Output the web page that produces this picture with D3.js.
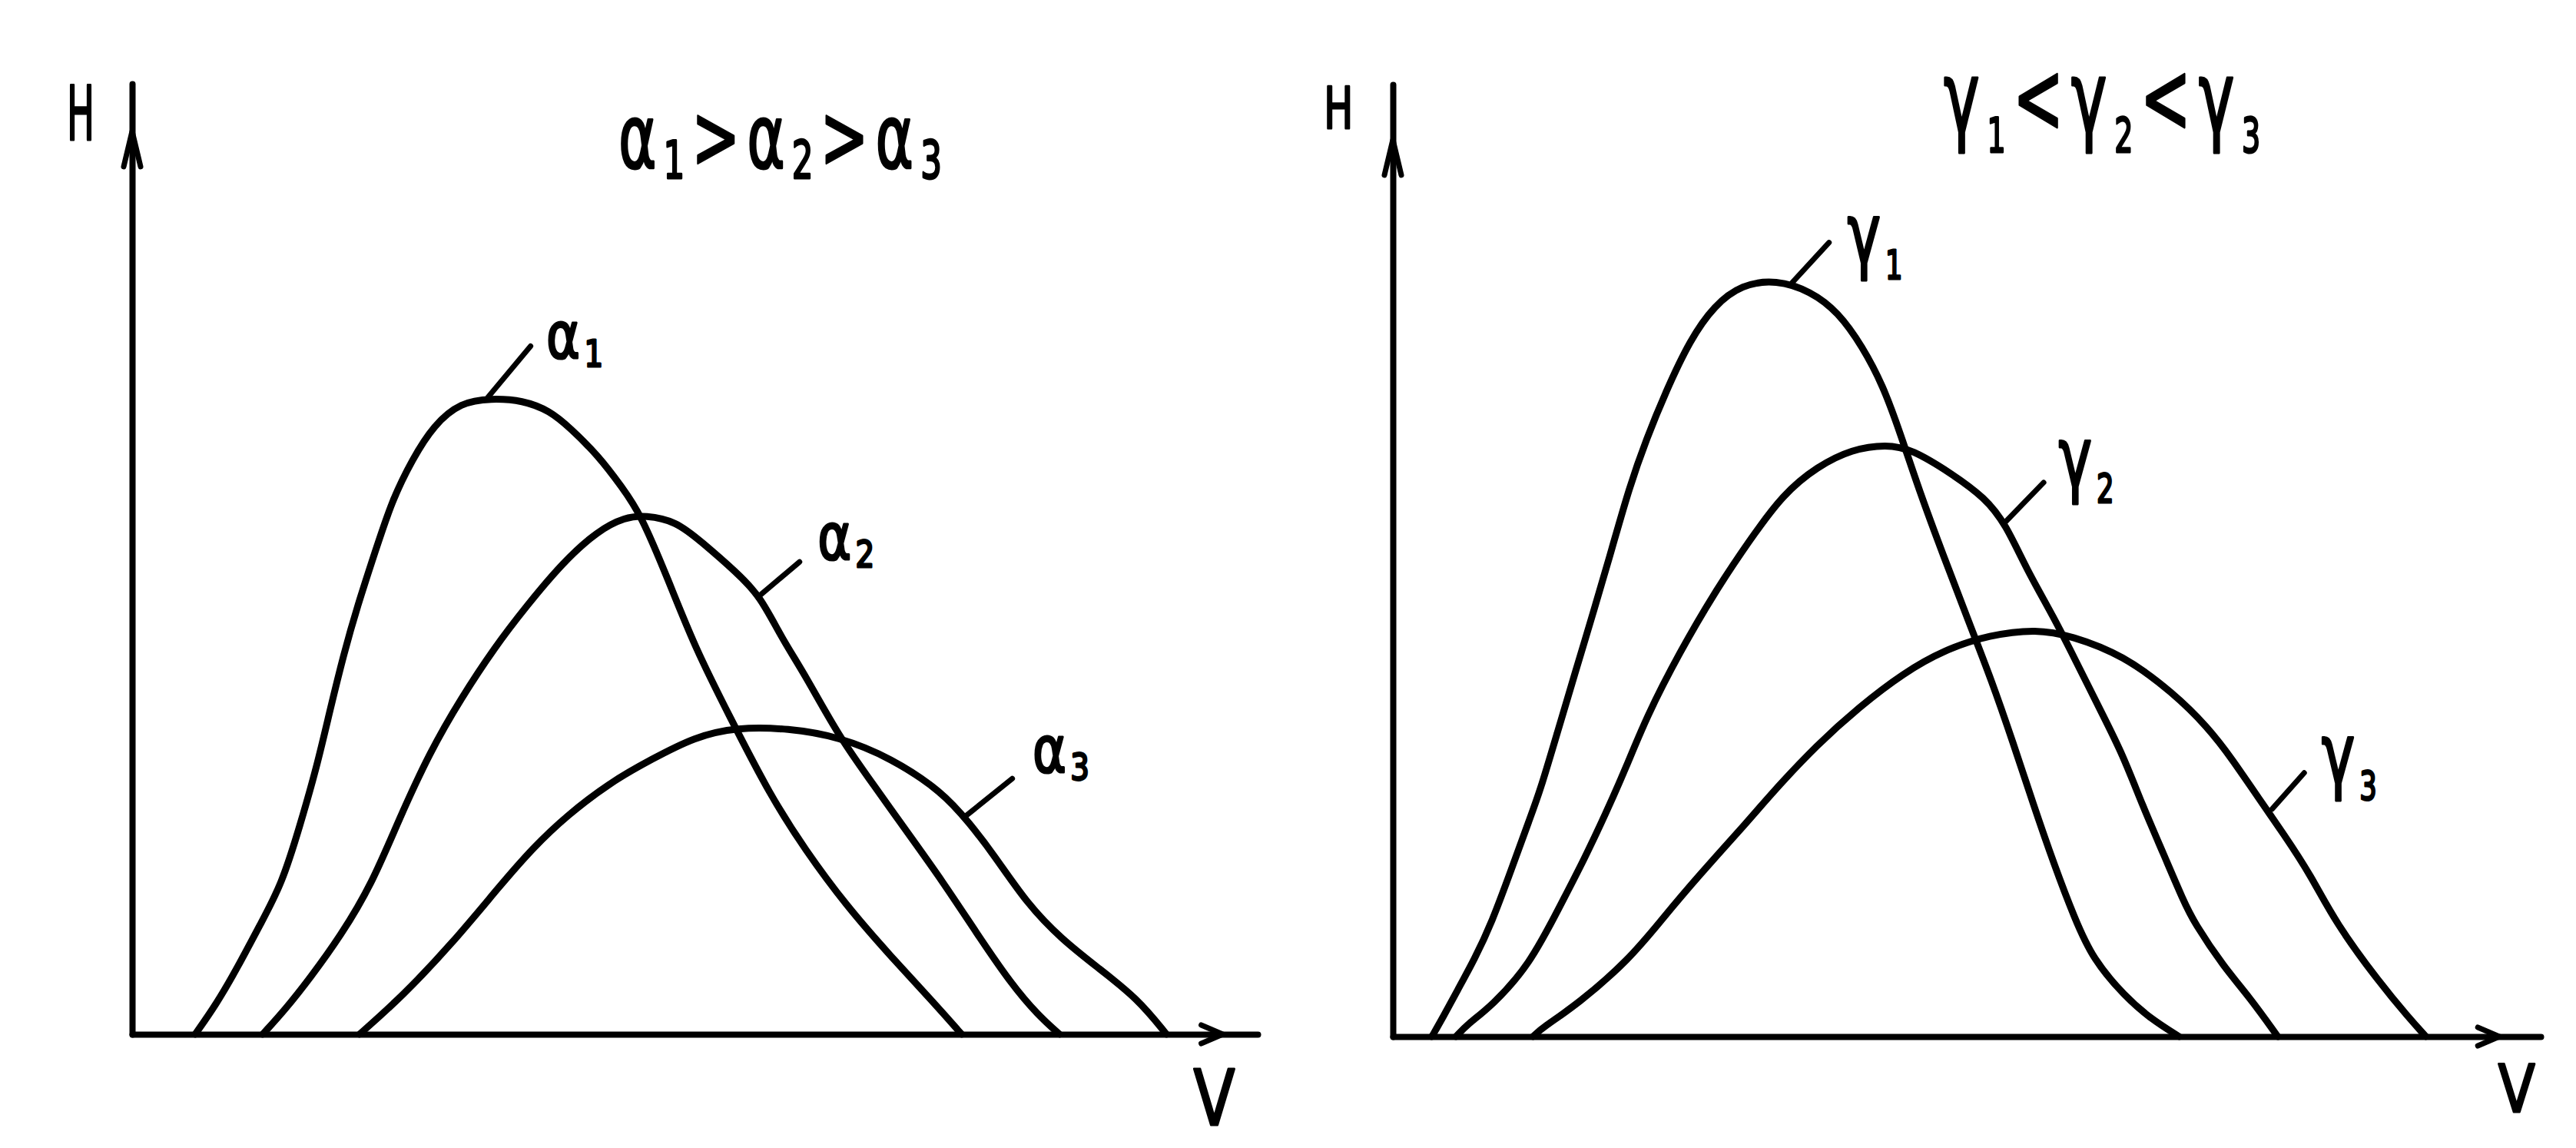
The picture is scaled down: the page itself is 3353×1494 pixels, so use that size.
<!DOCTYPE html>
<html><head><meta charset="utf-8">
<script src="https://cdn.jsdelivr.net/npm/d3@7"></script>
<style>html,body{margin:0;padding:0;background:#fff;} svg{display:block}</style>
</head><body>
<script>
// ---------- data (V, H), arbitrary units 0..100 ----------
const alpha1 = [[5.6,0],[7.5,3.2],[9.4,7.1],[11.4,11.6],[13.3,15.8],[14.9,21.9],[16.4,28.1],[17.6,34.2],[18.8,40.0],[20.0,45.0],[21.6,50.8],[23.1,56.2],[24.9,60.5],[26.8,64.1],[29.2,66.5],[31.9,66.9],[34.7,66.7],[37.1,65.6],[38.9,63.8],[41.4,60.9],[43.5,57.6],[45.2,54.7],[47.6,47.9],[50.0,40.7],[53.1,33.4],[56.7,25.1],[59.8,19.4],[63.4,13.6],[67.4,8.2],[71.4,3.1],[73.7,0]];
const alpha2 = [[11.6,0],[13.6,2.6],[15.8,5.9],[18.5,10.3],[21.3,15.8],[23.7,22.6],[26.5,29.8],[29.2,35.3],[32.2,40.7],[35.0,45.0],[38.3,49.7],[41.4,53.0],[43.8,54.4],[45.6,54.6],[48.3,54.0],[50.6,51.8],[53.7,48.6],[55.8,46.1],[57.7,41.7],[59.8,37.8],[62.8,31.3],[65.9,26.2],[68.9,21.2],[72.0,16.1],[75.0,10.7],[78.1,5.3],[80.5,2.0],[82.4,0]];
const alpha3 = [[20.2,0],[24.0,4.0],[28.4,9.5],[32.8,15.8],[35.6,19.6],[38.6,23.0],[42.6,26.6],[46.1,28.9],[50.0,31.3],[53.7,32.3],[58.3,32.2],[62.8,31.3],[67.4,29.1],[72.0,25.5],[74.4,22.2],[76.5,19.0],[79.6,13.6],[82.6,10.0],[85.7,7.1],[89.3,3.8],[91.9,0]];
const gamma1 = [[3.4,0],[4.4,2.1],[5.6,4.8],[7.1,8.1],[8.6,11.9],[10.4,17.8],[11.9,22.8],[12.8,25.7],[14.3,31.8],[15.8,37.9],[17.6,45.1],[19.1,51.3],[20.6,57.7],[22.1,62.8],[23.8,67.8],[25.9,73.2],[28.0,76.8],[30.4,79.0],[33.4,79.5],[36.4,78.3],[38.8,76.1],[40.9,72.5],[42.7,68.4],[44.2,63.4],[45.9,57.2],[48.0,50.4],[50.1,43.8],[52.2,37.3],[54.0,31.0],[55.8,24.4],[57.6,18.1],[59.4,12.4],[61.0,8.1],[63.8,4.2],[66.0,1.9],[68.5,0]];
const gamma2 = [[5.5,0],[6.5,1.3],[8.6,3.2],[11.9,7.5],[14.6,13.8],[16.7,18.7],[18.5,23.3],[20.3,28.2],[22.1,33.6],[25.0,40.4],[28.0,46.6],[31.0,52.0],[34.0,57.0],[37.0,59.9],[40.0,61.7],[43.0,62.2],[45.2,61.7],[48.6,59.2],[51.6,56.6],[53.4,53.8],[55.2,49.1],[57.6,44.0],[59.4,39.7],[61.8,33.9],[63.6,29.6],[65.3,24.3],[67.1,19.3],[68.9,14.2],[69.8,12.0],[72.4,7.3],[74.6,4.2],[77.1,0]];
const gamma3 = [[12.2,0],[13.1,1.0],[16.1,3.4],[20.6,8.1],[23.5,12.4],[26.5,16.7],[31.0,22.7],[33.1,25.7],[37.0,30.7],[40.6,34.6],[44.5,38.2],[48.0,40.6],[52.0,42.2],[56.1,42.8],[59.1,42.1],[63.6,40.1],[68.0,36.1],[71.0,32.5],[73.1,29.2],[75.5,24.9],[77.6,21.3],[80.0,16.9],[82.1,12.0],[86.0,5.6],[88.5,2.0],[90.0,0]];

const leftSeriesNames = ["α","α","α"];
const rightSeriesNames = ["γ","γ","γ"];
const seriesIndex = ["1","2","3"];
const leftTitle = [["α","1"],[">",null],["α","2"],[">",null],["α","3"]];
const rightTitle = [["γ","1"],["<",null],["γ","2"],["<",null],["γ","3"]];
const axisNames = ["H","V"];

// ---------- drawing ----------
const W = 3353, Hh = 1494;
const svg = d3.select("body").append("svg").attr("width", W).attr("height", Hh);
const FONT = "DejaVu Sans";

// each glyph group is its own <text>, laid out at natural width inside a group
// that is scaled horizontally to the target width (narrow, hand-lettered look)
function richText(g, parts, x0, y0, size, targetW, subRatio, subDrop, gapEm) {
  const grp = g.append("g");
  const items = [];
  parts.forEach(([main, sub]) => {
    items.push({t: main, s: size, dy: 0});
    if (sub) items.push({t: sub, s: size * subRatio, dy: size * subDrop});
  });
  const gap = size * (gapEm || 0.04);
  let cx = 0;
  items.forEach((it, i) => {
    const el = grp.append("text").attr("font-family", FONT).attr("font-size", it.s)
      .attr("fill", "#000").attr("stroke", "#000").attr("stroke-width", 3)
      .attr("stroke-linejoin", "round").attr("x", cx).attr("y", it.dy).text(it.t);
    cx += el.node().getComputedTextLength() + (i < items.length - 1 ? gap : 0);
  });
  const f = targetW ? targetW / cx : 1;
  grp.attr("transform", `translate(${x0},${y0}) scale(${f},1)`);
}

function panel(cfg) {
  const g = svg.append("g");
  const x = d3.scaleLinear().domain([0, 100]).range(cfg.xr);
  const y = d3.scaleLinear().domain([0, 100]).range(cfg.yr);

  // axes (domain lines only)
  g.append("g").attr("transform", `translate(0,${y(0)})`)
    .call(d3.axisBottom(x).tickValues([]).tickSizeOuter(0));
  g.append("g").attr("transform", `translate(${x(0)},0)`)
    .call(d3.axisLeft(y).tickValues([]).tickSizeOuter(0));
  g.selectAll(".domain").attr("stroke", "#000").attr("stroke-width", 8).attr("stroke-linecap", "round");

  // arrowheads
  const xt = x(cfg.xTip), yb = y(0);
  g.append("path").attr("d", `M${xt - 28},${yb - 12} L${xt},${yb} L${xt - 28},${yb + 12}`)
    .attr("fill", "none").attr("stroke", "#000").attr("stroke-width", 7).attr("stroke-linejoin", "round").attr("stroke-linecap", "round");
  const yt = y(cfg.yTip), xl = x(0);
  g.append("path").attr("d", `M${xl - 11},${yt + 46} L${xl},${yt} L${xl + 11},${yt + 46}`)
    .attr("fill", "none").attr("stroke", "#000").attr("stroke-width", 7).attr("stroke-linejoin", "round").attr("stroke-linecap", "round");

  // curves (smoothed through the read points)
  const line = d3.line().x(d => x(d[0])).y(d => y(d[1])).curve(d3.curveBasis);
  cfg.series.forEach(s => {
    g.append("path").attr("d", line(s)).attr("fill", "none").attr("stroke", "#000")
      .attr("stroke-width", 9).attr("stroke-linecap", "round").attr("stroke-linejoin", "round");
  });

  // leaders + labels
  cfg.labels.forEach((L, i) => {
    g.append("line").attr("x1", x(L.from[0])).attr("y1", y(L.from[1]))
      .attr("x2", x(L.to[0])).attr("y2", y(L.to[1]))
      .attr("stroke", "#000").attr("stroke-width", 7).attr("stroke-linecap", "round");
    richText(g, [[cfg.names[i], seriesIndex[i]]], x(L.at[0]), y(L.at[1]), cfg.labelSize, cfg.labelLen, cfg.subRatio, cfg.subDrop, 0.08);
  });

  // title
  richText(g, cfg.title, x(cfg.titleAt[0]), y(cfg.titleAt[1]), cfg.titleSize, cfg.titleLen, cfg.subRatio, cfg.subDrop, 0.12);
  // axis names
  richText(g, [[axisNames[0], null]], x(cfg.hAt[0]), y(cfg.hAt[1]), cfg.hSize, cfg.hLen);
  richText(g, [[axisNames[1], null]], x(cfg.vAt[0]), y(cfg.vAt[1]), cfg.vSize, cfg.vLen);
}

panel({
  xr: [172, 1637], yr: [1346, 109],
  xTip: 96.9, yTip: 95,
  series: [alpha1, alpha2, alpha3],
  names: leftSeriesNames,
  labels: [
    {from: [31.6, 67.0], to: [35.4, 72.4], at: [36.8, 71.1]},
    {from: [55.8, 46.2], to: [59.3, 49.7], at: [60.9, 50.0]},
    {from: [74.1, 23.0], to: [78.2, 26.9], at: [80.0, 27.6]}
  ],
  labelSize: 84, labelLen: 74, subRatio: 0.58, subDrop: 0.12,
  title: leftTitle, titleAt: [43.2, 91.2], titleSize: 116, titleLen: 421,
  hAt: [-5.8, 94.1], hSize: 98, hLen: 36,
  vAt: [94.3, -9.5], vSize: 100, vLen: 54
});

panel({
  xr: [1813, 3307], yr: [1349, 110],
  xTip: 96.4, yTip: 94.2,
  series: [gamma1, gamma2, gamma3],
  names: rightSeriesNames,
  labels: [
    {from: [34.8, 79.2], to: [38.0, 83.4], at: [39.6, 81.3]},
    {from: [53.4, 54.1], to: [56.7, 58.2], at: [58.0, 57.8]},
    {from: [76.6, 23.9], to: [79.4, 27.7], at: [80.9, 26.6]}
  ],
  labelSize: 108, labelLen: 72, subRatio: 0.48, subDrop: 0.2,
  title: rightTitle, titleAt: [48.0, 95.0], titleSize: 130, titleLen: 412,
  hAt: [-6.0, 95.4], hSize: 74, hLen: 38,
  vAt: [96.3, -7.9], vSize: 85, vLen: 48
});
</script>
</body></html>
